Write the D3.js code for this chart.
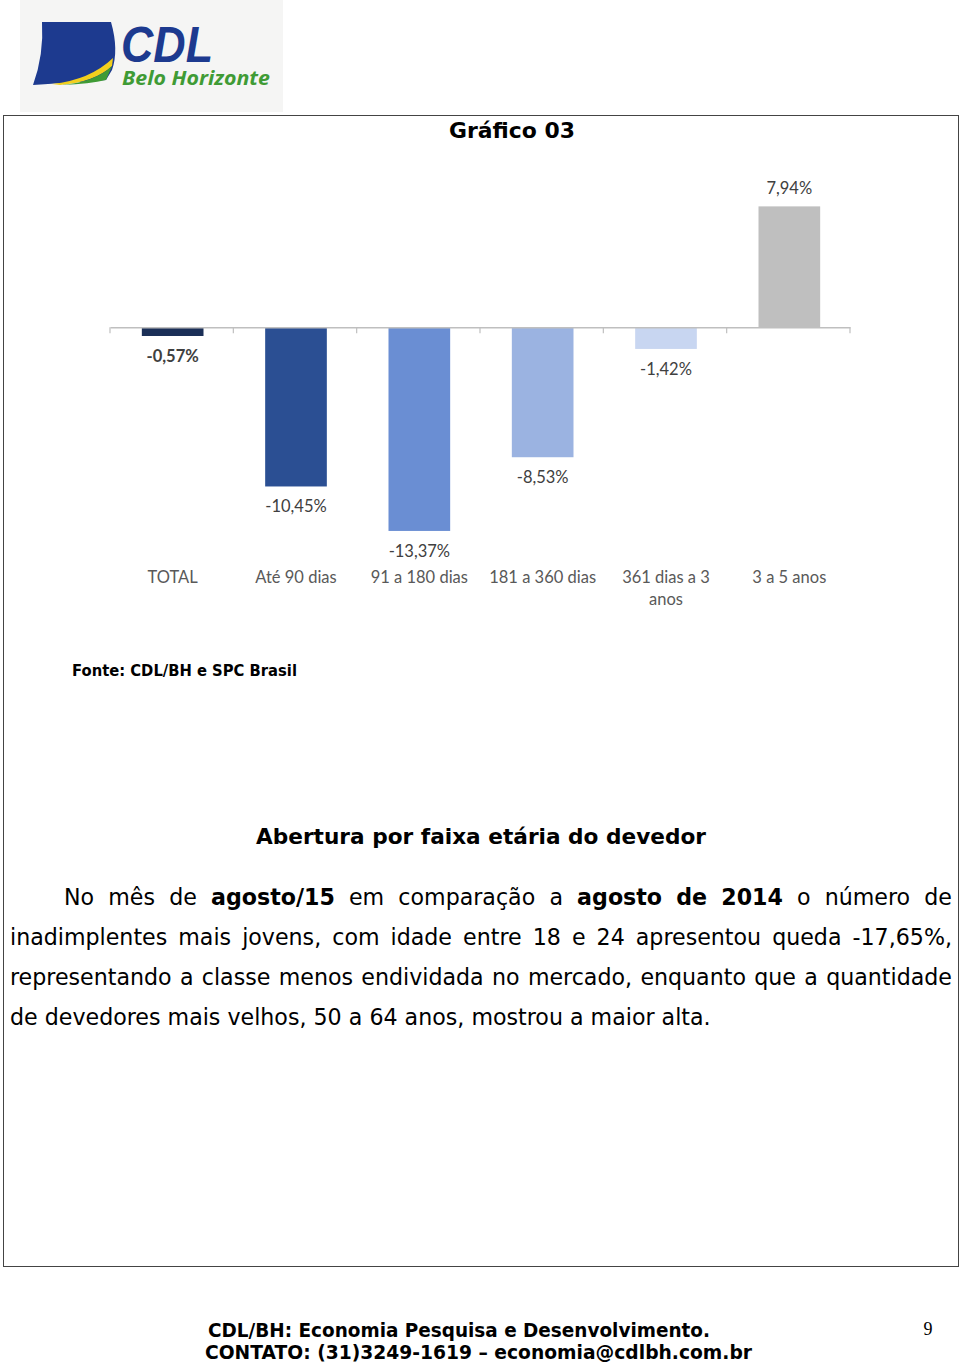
<!DOCTYPE html>
<html><head><meta charset="utf-8">
<script src="https://cdn.jsdelivr.net/npm/d3@7"></script>
<style>body{margin:0;background:#fff}svg{display:block}</style>
</head><body>
<script>
const categories = ["TOTAL", "Até 90 dias", "91 a 180 dias", "181 a 360 dias", "361 dias a 3 anos", "3 a 5 anos"];
const categoryLines = [["TOTAL"], ["Até 90 dias"], ["91 a 180 dias"], ["181 a 360 dias"], ["361 dias a 3", "anos"], ["3 a 5 anos"]];
const values = [-0.57, -10.45, -13.37, -8.53, -1.42, 7.94];
const valueLabels = ["-0,57%", "-10,45%", "-13,37%", "-8,53%", "-1,42%", "7,94%"];
const barColors = ["#1b2f57", "#2b4f93", "#6a8ed3", "#9bb3e1", "#c8d6f1", "#bfbfbf"];

const W = 960, H = 1365;
const svg = d3.select("body").append("svg").attr("width", W).attr("height", H);

// Logo
const logo = svg.append("g");
logo.append("rect").attr("x", 20).attr("y", 0).attr("width", 263).attr("height", 112).attr("fill", "#f5f5f4");
logo.append("path").attr("d", "M42,22 L111,22 Q119,50 112,70 L106,80 Q80,82 33,85 Q44,55 42,22 Z").attr("fill", "#1d3a8f");
logo.append("path").attr("d", "M52,84 Q90,80 113,58 L112,66 Q95,82 60,85 Z").attr("fill", "#f2cf1d");
logo.append("path").attr("d", "M62,85 Q95,82 112,66 L106,80 Q90,84 62,85 Z").attr("fill", "#3f9b35");
logo.append("text").attr("x", 121).attr("y", 62).attr("font-family", "Liberation Sans, DejaVu Sans, sans-serif")
  .attr("font-weight", 700).attr("font-style", "italic").attr("font-size", 50).attr("fill", "#1d3a8f")
  .attr("textLength", 92).attr("lengthAdjust", "spacingAndGlyphs").text("CDL");
logo.append("text").attr("x", 122).attr("y", 85).attr("font-family", "Open Sans, DejaVu Sans, sans-serif")
  .attr("font-weight", 700).attr("font-style", "italic").attr("font-size", 20).attr("fill", "#3f9b35")
  .attr("textLength", 148).attr("lengthAdjust", "spacingAndGlyphs").text("Belo Horizonte");

// Frame
svg.append("rect").attr("x", 3.5).attr("y", 115.5).attr("width", 955).attr("height", 1151)
  .attr("fill", "none").attr("stroke", "#444").attr("stroke-width", 1);

const verdana = "Verdana, DejaVu Sans, sans-serif";
function txt(x, y, s, size, weight, anchor, len, fam) {
  const t = svg.append("text").attr("x", x).attr("y", y).attr("font-family", fam || verdana)
    .attr("font-size", size).attr("font-weight", weight).attr("text-anchor", anchor).attr("fill", "#000").text(s);
  if (len) t.attr("textLength", len).attr("lengthAdjust", "spacingAndGlyphs");
  return t;
}
txt(512, 138, "Gráfico 03", 22, 700, "middle", 126);

// Chart
const x = d3.scaleBand().domain(categories).range([110, 850]).paddingInner(0.5).paddingOuter(0.25);
const y = d3.scaleLinear().domain([-16, 10]).range([571, 175]);
const chart = svg.append("g");
const lblFont = "Lato, Carlito, Open Sans, sans-serif";
const lblSize = 16.5;

chart.selectAll("rect.bar").data(values).join("rect").attr("class", "bar")
  .attr("x", (d, i) => x(categories[i]) + 1).attr("width", x.bandwidth())
  .attr("y", d => y(Math.max(0, d))).attr("height", d => Math.abs(y(d) - y(0)))
  .attr("fill", (d, i) => barColors[i]);

// axis line with ticks at band boundaries
const axis = d3.axisBottom(x).tickSize(0).tickFormat("");
const ag = chart.append("g").attr("transform", `translate(0,${y(0)})`).call(axis);
ag.select(".domain").attr("stroke", "#bfbfbf").attr("stroke-width", 1.5);
const step = x.step();
const bounds = d3.range(categories.length + 1).map(i => 110 + i * step);
ag.selectAll("line.bt").data(bounds).join("line").attr("class", "bt")
  .attr("x1", d => d).attr("x2", d => d).attr("y1", 0).attr("y2", 6).attr("stroke", "#bfbfbf").attr("stroke-width", 1.2);

chart.selectAll("text.val").data(values).join("text").attr("class", "val")
  .attr("x", (d, i) => x(categories[i]) + x.bandwidth() / 2 + 1)
  .attr("y", d => d >= 0 ? y(d) - 12 : y(d) + 26)
  .attr("text-anchor", "middle").attr("font-family", lblFont).attr("font-size", lblSize)
  .attr("font-weight", (d, i) => i === 0 ? 700 : 400).attr("fill", "#404040")
  .text((d, i) => valueLabels[i]);

const cl = chart.selectAll("text.cat").data(categoryLines).join("text").attr("class", "cat")
  .attr("text-anchor", "middle").attr("font-family", lblFont).attr("font-size", lblSize).attr("fill", "#595959");
cl.each(function(lines, i) {
  d3.select(this).selectAll("tspan").data(lines).join("tspan")
    .attr("x", x(categories[i]) + x.bandwidth() / 2 + 1).attr("y", (d, j) => 583 + j * 22).text(d => d);
});

txt(72, 676, "Fonte: CDL/BH e SPC Brasil", 15, 700, "start", 225);
txt(481, 844, "Abertura por faixa etária do devedor", 22, 700, "middle", 450);

// Paragraph (justified)
const para = [
  { x0: 64, last: false, words: [[["No", 0]], [["mês", 0]], [["de", 0]], [["agosto/15", 1]], [["em", 0]], [["comparação", 0]], [["a", 0]], [["agosto", 1]], [["de", 1]], [["2014", 1]], [["o", 0]], [["número", 0]], [["de", 0]]] },
  { x0: 10, last: false, words: "inadimplentes mais jovens, com idade entre 18 e 24 apresentou queda -17,65%,".split(" ").map(w => [[w, 0]]) },
  { x0: 10, last: false, words: "representando a classe menos endividada no mercado, enquanto que a quantidade".split(" ").map(w => [[w, 0]]) },
  { x0: 10, last: true, words: "de devedores mais velhos, 50 a 64 anos, mostrou a maior alta.".split(" ").map(w => [[w, 0]]) }
];
const rightEdge = 952;
const pg = svg.append("g").attr("font-family", verdana).attr("fill", "#000");
function measure(runs, size) {
  const t = pg.append("text").attr("font-size", size);
  runs.forEach(r => t.append("tspan").attr("font-weight", r[1] ? 700 : 400).text(r[0]));
  const w = t.node().getComputedTextLength(); t.remove(); return w;
}
let fs = 20;
const lastW = measure([[para[3].words.map(w => w[0][0]).join(" "), 0]], fs);
fs = fs * 701 / lastW;
const spaceW = measure([["a a", 0]], fs) - measure([["aa", 0]], fs);
para.forEach((line, li) => {
  const by = 905 + li * 40;
  const widths = line.words.map(w => measure(w, fs));
  const total = d3.sum(widths);
  const gap = line.last ? spaceW : (rightEdge - line.x0 - total) / (line.words.length - 1);
  let cx = line.x0;
  line.words.forEach((w, wi) => {
    const t = pg.append("text").attr("x", cx).attr("y", by).attr("font-size", fs);
    w.forEach(r => t.append("tspan").attr("font-weight", r[1] ? 700 : 400).text(r[0]));
    cx += widths[wi] + gap;
  });
});

// Footer
txt(459, 1337, "CDL/BH: Economia Pesquisa e Desenvolvimento.", 19, 700, "middle", 502, "Tahoma, DejaVu Sans, sans-serif");
txt(478.5, 1359, "CONTATO: (31)3249-1619 – economia@cdlbh.com.br", 19, 700, "middle", 547, "Tahoma, DejaVu Sans, sans-serif");
txt(928, 1335, "9", 18, 400, "middle", null, "Liberation Serif, Times New Roman, serif");
</script>
</body></html>
